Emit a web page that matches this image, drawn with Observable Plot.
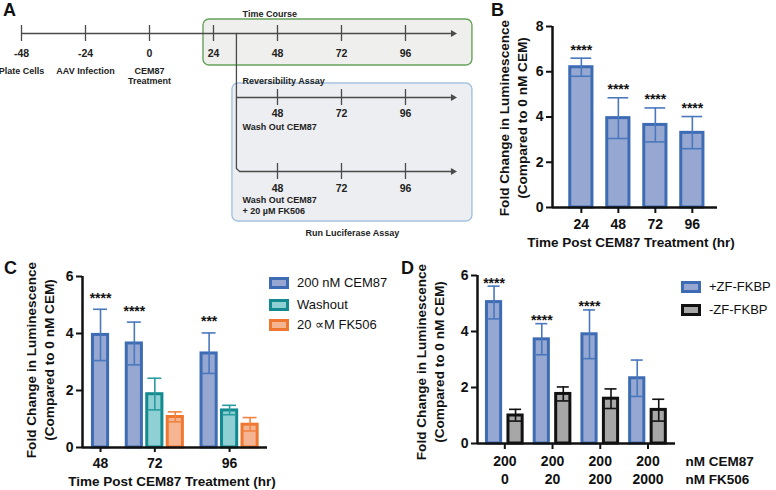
<!DOCTYPE html>
<html><head><meta charset="utf-8">
<script src="https://cdn.jsdelivr.net/npm/d3@7"></script>
<script src="https://cdn.jsdelivr.net/npm/@observablehq/plot@0.6"></script>
<style>
body{margin:0;background:#fff;font-family:"Liberation Sans",Arial,sans-serif;color:#111;}
#fig{position:relative;width:776px;height:490px;overflow:hidden;background:#fff;}
#fig > svg, .slot{position:absolute;}
.letter{position:absolute;font-weight:bold;font-size:18px;line-height:18px;}
.ytitle{position:absolute;transform-origin:0 0;transform:rotate(-90deg);width:220px;font-weight:bold;font-size:13.6px;line-height:18px;text-align:center;white-space:nowrap;}
.xtitle{position:absolute;font-weight:bold;font-size:13.5px;line-height:16px;white-space:nowrap;transform:translateX(-50%);}
.leg{position:absolute;font-size:13px;line-height:16px;white-space:nowrap;display:flex;align-items:center;}
.sw{display:inline-block;width:14px;height:6px;border:3px solid;margin-right:8px;}
</style></head>
<body><div id="fig"></div>
<script>
// ---------- Panel A (timeline diagram) ----------
const aMainHours = [-48, -24, 0, 24, 48, 72, 96];
const aMainEvents = ["Plate Cells", "AAV Infection", "CEM87\nTreatment"];
const aBranchHours = [48, 72, 96];
const aTimeCourseTitle = "Time Course";
const aRevTitle = "Reversibility Assay";
const aRevNote = "Wash Out CEM87";
const aFkNote = "Wash Out CEM87\n+ 20 µM FK506";
const aFooter = "Run Luciferase Assay";

// ---------- Panel B ----------
const bTimes = ["24", "48", "72", "96"];
const bMean = [6.2, 3.95, 3.65, 3.3];
const bLow = [5.8, 3.05, 2.9, 2.6];
const bHigh = [6.6, 4.85, 4.4, 4.02];
const bStars = ["****", "****", "****", "****"];

// ---------- Panel C ----------
const cTimes = ["48", "72", "96"];
const cSeriesNames = ["200 nM CEM87", "Washout", "20 ∝M FK506"];
const cCemMean = [3.95, 3.65, 3.3];
const cCemLow = [3.05, 2.9, 2.6];
const cCemHigh = [4.85, 4.4, 4.02];
const cCemStars = ["****", "****", "***"];
const cWashMean = [null, 1.87, 1.3];
const cWashLow = [null, 1.32, 1.15];
const cWashHigh = [null, 2.43, 1.48];
const cFkMean = [null, 1.07, 0.8];
const cFkLow = [null, 0.9, 0.58];
const cFkHigh = [null, 1.25, 1.05];

// ---------- Panel D ----------
const dCem = ["200", "200", "200", "200"];
const dFk = ["0", "20", "200", "2000"];
const dRowLabels = ["nM CEM87", "nM FK506"];
const dSeriesNames = ["+ZF-FKBP", "-ZF-FKBP"];
const dPlusMean = [5.05, 3.72, 3.9, 2.33];
const dPlusLow = [4.45, 3.17, 3.03, 1.68];
const dPlusHigh = [5.62, 4.28, 4.77, 2.98];
const dPlusStars = ["****", "****", "****", ""];
const dMinusMean = [1.0, 1.77, 1.6, 1.2];
const dMinusLow = [0.8, 1.52, 1.25, 0.8];
const dMinusHigh = [1.22, 2.02, 1.95, 1.58];

const yTitle1 = "Fold Change in Luminescence";
const yTitle2 = "(Compared to 0 nM CEM)";
const xTitle = "Time Post CEM87 Treatment (hr)";

// colours
const BLUE = "#3d6cb5", BLUE_F = "#96a8d1";
const TEAL = "#128a8f", TEAL_F = "#8ed0d4";
const ORNG = "#f0772f", ORNG_F = "#f6b592";
const GRAY_S = "#111111", GRAY_F = "#a7a7a7";
const FONT = "'Liberation Sans', Arial, sans-serif";
const intFmt = d => String(d);

const fig = document.getElementById("fig");
function place(el, left, top) { el.style.position = "absolute"; el.style.left = left + "px"; el.style.top = top + "px"; fig.appendChild(el); return el; }
function div(cls, html, left, top) { const e = document.createElement("div"); e.className = cls; e.innerHTML = html; return place(e, left, top); }

// layout helper: sequential bar positions, extra gap between groups
function layout(groups, series, gap) {
  const rows = [], centers = [];
  let p = 0;
  groups.forEach((g, gi) => {
    const ps = [];
    series.forEach(s => {
      const v = s.mean[gi];
      if (v == null) return;
      rows.push({group: g, series: s.name, pos: p, mean: v, lo: s.low[gi], hi: s.high[gi],
                 star: s.stars ? s.stars[gi] : "", fill: s.fill, stroke: s.stroke, err: s.err || s.stroke});
      ps.push(p); p += 1;
    });
    centers.push(d3.mean(ps));
    p += gap;
  });
  return {rows, centers};
}

function barMarks(rows, hw, cw, starDy) {
  return [
    Plot.rect(rows, {x1: d => d.pos - hw, x2: d => d.pos + hw, y1: d => 0, y2: "mean", fill: "fill", stroke: "stroke", strokeWidth: 3}),
    Plot.ruleX(rows, {x: "pos", y1: "lo", y2: "hi", stroke: "err", strokeWidth: 1.6}),
    Plot.ruleY(rows, {x1: d => d.pos - cw, x2: d => d.pos + cw, y: "hi", stroke: "err", strokeWidth: 1.6}),
    Plot.ruleY(rows, {x1: d => d.pos - cw, x2: d => d.pos + cw, y: "lo", stroke: "err", strokeWidth: 1.6}),
    Plot.text(rows.filter(d => d.star), {x: "pos", y: "hi", text: "star", dy: starDy, fontSize: 14, fontWeight: "bold", fill: "#111"})
  ];
}
const plotStyle = {background: "transparent", fontFamily: FONT, fontSize: "14px", fontWeight: "bold", color: "#111", overflow: "visible"};

// ================= Panel A =================
{
  const mainY = 33, revY = 97, fkY = 171, branchX = 32.6, endX = 113.2;
  const tcBox = [{x1: 20.25, x2: 121.1, y1: 19, y2: 65}];
  const revBox = [{x1: 31.1, x2: 121.1, y1: 83, y2: 221}];
  const lineC = "#4a4a4a", txtC = "#222";
  const svg = Plot.plot({
    width: 490, height: 250, margin: 0,
    x: {domain: [-55.875, 127.875], range: [0, 490], axis: null},
    y: {domain: [0, 250], range: [0, 250], axis: null},
    style: {background: "transparent", fontFamily: FONT, fontWeight: "bold", overflow: "visible"},
    marks: [
      Plot.rect(tcBox, {x1: "x1", x2: "x2", y1: "y1", y2: "y2", fill: "#efefed", stroke: "#67a35a", strokeWidth: 1.4, rx: 6}),
      Plot.rect(revBox, {x1: "x1", x2: "x2", y1: "y1", y2: "y2", fill: "#eceef1", stroke: "#a5c3e0", strokeWidth: 1.4, rx: 6}),
      // main timeline
      Plot.ruleY([mainY], {x1: aMainHours[0], x2: endX, stroke: lineC, strokeWidth: 1.3}),
      Plot.ruleX(aMainHours, {x: d => d, y1: mainY - 8, y2: mainY + 8, stroke: lineC, strokeWidth: 1.3}),
      Plot.dot([endX], {x: d => d + 0.6, y: () => mainY, symbol: "triangle", rotate: 90, r: 2.6, fill: lineC, stroke: null}),
      // branch
      Plot.line([[branchX, mainY], [branchX, fkY - 3], [branchX + 1.2, fkY], [endX, fkY]], {x: d => d[0], y: d => d[1], stroke: lineC, strokeWidth: 1.3}),
      Plot.ruleY([revY], {x1: branchX, x2: endX, stroke: lineC, strokeWidth: 1.3}),
      Plot.ruleX(aBranchHours, {x: d => d, y1: revY - 8, y2: revY + 8, stroke: lineC, strokeWidth: 1.3}),
      Plot.ruleX(aBranchHours, {x: d => d, y1: fkY - 8, y2: fkY + 8, stroke: lineC, strokeWidth: 1.3}),
      Plot.dot([endX], {x: d => d + 0.6, y: () => revY, symbol: "triangle", rotate: 90, r: 2.6, fill: lineC, stroke: null}),
      Plot.dot([endX], {x: d => d + 0.6, y: () => fkY, symbol: "triangle", rotate: 90, r: 2.6, fill: lineC, stroke: null}),
      // numbers
      Plot.text(aMainHours, {x: d => d, y: () => mainY + 20, text: d => String(d), fontSize: 10.5, fill: txtC}),
      Plot.text(aBranchHours, {x: d => d, y: () => revY + 16, text: d => String(d), fontSize: 10.5, fill: txtC}),
      Plot.text(aBranchHours, {x: d => d, y: () => fkY + 17, text: d => String(d), fontSize: 10.5, fill: txtC}),
      // event labels
      Plot.text(aMainEvents, {x: (d, i) => aMainHours[i], y: () => mainY + 33, text: d => d, fontSize: 9, lineAnchor: "top", lineHeight: 1.12, fill: txtC}),
      Plot.text([aTimeCourseTitle], {x: () => 34.9, y: () => 14, text: d => d, fontSize: 9, textAnchor: "start", fill: txtC}),
      Plot.text([aRevTitle], {x: () => 34.9, y: () => 81, text: d => d, fontSize: 9, textAnchor: "start", fill: txtC}),
      Plot.text([aRevNote], {x: () => 34.9, y: () => 127, text: d => d, fontSize: 9, textAnchor: "start", fill: txtC}),
      Plot.text([aFkNote], {x: () => 34.9, y: () => 195, text: d => d, fontSize: 9, textAnchor: "start", lineAnchor: "top", lineHeight: 1.2, fill: txtC}),
      Plot.text([aFooter], {x: () => 76.1, y: () => 233, text: d => d, fontSize: 9, fill: txtC})
    ]
  });
  place(svg, 0, 0);
  div("letter", "A", 3, 1);
}

// ================= Panel B =================
{
  const {rows, centers} = layout(bTimes, [{name: "CEM", mean: bMean, low: bLow, high: bHigh, stars: bStars, fill: BLUE_F, stroke: BLUE, err: "#4a78bd"}], 0);
  const x0 = -0.78, x1 = 3.68;
  const svg = Plot.plot({
    width: 286, height: 250, marginLeft: 62, marginRight: 59, marginTop: 26, marginBottom: 43,
    x: {domain: [x0, x1]}, y: {domain: [0, 8]}, color: {type: "identity"},
    style: plotStyle,
    marks: [
      ...barMarks(rows, 0.3, 0.28, -8),
      Plot.ruleY([0], {stroke: "#111", strokeWidth: 2.5}),
      Plot.ruleX([x0], {stroke: "#111", strokeWidth: 2.5}),
      Plot.axisY({ticks: [0, 2, 4, 6, 8], tickFormat: intFmt, tickSize: 6, strokeWidth: 2, tickPadding: 3, label: null, fontSize: 14}),
      Plot.axisX({ticks: centers, tickFormat: (d, i) => bTimes[i], tickSize: 6, strokeWidth: 2, tickPadding: 6, label: null, fontSize: 14})
    ]
  });
  place(svg, 490, 0);
  div("letter", "B", 491, 1);
  div("ytitle", yTitle1 + "<br>" + yTitle2, 496, 227.5);
  div("xtitle", xTitle, 631, 235);
}

// ================= Panel C =================
{
  const series = [
    {name: cSeriesNames[0], mean: cCemMean, low: cCemLow, high: cCemHigh, stars: cCemStars, fill: BLUE_F, stroke: BLUE, err: "#4a78bd"},
    {name: cSeriesNames[1], mean: cWashMean, low: cWashLow, high: cWashHigh, fill: TEAL_F, stroke: TEAL, err: "#2a9ba0"},
    {name: cSeriesNames[2], mean: cFkMean, low: cFkLow, high: cFkHigh, fill: ORNG_F, stroke: ORNG, err: "#f08442"}
  ];
  const {rows, centers} = layout(cTimes, series, 0.65);
  const x0 = -0.88, x1 = 8.15;
  const svg = Plot.plot({
    width: 390, height: 240, marginLeft: 82, marginRight: 123, marginTop: 26, marginBottom: 43,
    x: {domain: [x0, x1]}, y: {domain: [0, 6]}, color: {type: "identity"},
    style: plotStyle,
    marks: [
      ...barMarks(rows, 0.37, 0.34, -11),
      Plot.ruleY([0], {stroke: "#111", strokeWidth: 2.5}),
      Plot.ruleX([x0], {stroke: "#111", strokeWidth: 2.5}),
      Plot.axisY({ticks: [0, 2, 4, 6], tickFormat: intFmt, tickSize: 6, strokeWidth: 2, tickPadding: 3, label: null, fontSize: 14}),
      Plot.axisX({ticks: centers, tickFormat: (d, i) => cTimes[i], tickSize: 5, strokeWidth: 2, tickPadding: 6, label: null, fontSize: 14})
    ]
  });
  place(svg, 0, 250);
  div("letter", "C", 4, 259);
  div("ytitle", yTitle1 + "<br>" + yTitle2, 23, 470);
  div("xtitle", xTitle, 172, 474);
  const tops = [275, 297, 317];
  series.forEach((s, i) => {
    div("leg", `<span class="sw" style="background:${s.fill};border-color:${s.stroke}"></span>${s.name}`, 269, tops[i]);
  });
}

// ================= Panel D =================
{
  const series = [
    {name: dSeriesNames[0], mean: dPlusMean, low: dPlusLow, high: dPlusHigh, stars: dPlusStars, fill: BLUE_F, stroke: BLUE, err: "#4a78bd"},
    {name: dSeriesNames[1], mean: dMinusMean, low: dMinusLow, high: dMinusHigh, fill: GRAY_F, stroke: GRAY_S, err: GRAY_S}
  ];
  const groups = dCem.map((c, i) => c + "|" + dFk[i]);
  const {rows, centers} = layout(groups, series, 0.22);
  const x0 = -0.77, x1 = 8.44;
  const labelRows = centers.map((c, i) => ({c, cem: dCem[i], fk: dFk[i]}));
  const svg = Plot.plot({
    width: 386, height: 240, marginLeft: 87, marginRight: 101, marginTop: 25, marginBottom: 47,
    x: {domain: [x0, x1]}, y: {domain: [0, 6]}, color: {type: "identity"},
    style: plotStyle,
    marks: [
      ...barMarks(rows, 0.33, 0.28, -3),
      Plot.ruleY([0], {stroke: "#111", strokeWidth: 2.5}),
      Plot.ruleX([x0], {stroke: "#111", strokeWidth: 2.5}),
      Plot.axisY({ticks: [0, 2, 4, 6], tickFormat: intFmt, tickSize: 6, strokeWidth: 2, tickPadding: 3, label: null, fontSize: 14}),
      Plot.axisX({ticks: centers, tickFormat: () => "", tickSize: 6, strokeWidth: 2, label: null}),
      Plot.text(labelRows, {x: "c", y: () => 0, text: "cem", dy: 13, lineAnchor: "top", fontSize: 14, fontWeight: "bold"}),
      Plot.text(labelRows, {x: "c", y: () => 0, text: "fk", dy: 31, lineAnchor: "top", fontSize: 14, fontWeight: "bold"}),
      Plot.text([dRowLabels[0]], {x: () => x1, y: () => 0, text: d => d, dx: 10, dy: 13, lineAnchor: "top", textAnchor: "start", fontSize: 13.5, fontWeight: "bold"}),
      Plot.text([dRowLabels[1]], {x: () => x1, y: () => 0, text: d => d, dx: 10, dy: 31, lineAnchor: "top", textAnchor: "start", fontSize: 13.5, fontWeight: "bold"})
    ]
  });
  place(svg, 390, 250);
  div("letter", "D", 401, 259);
  div("ytitle", yTitle1 + "<br>" + yTitle2, 413, 472);
  const tops = [279, 302];
  series.forEach((s, i) => {
    div("leg", `<span class="sw" style="background:${s.fill};border-color:${s.stroke}"></span>${s.name}`, 681, tops[i]);
  });
}
</script></body></html>
